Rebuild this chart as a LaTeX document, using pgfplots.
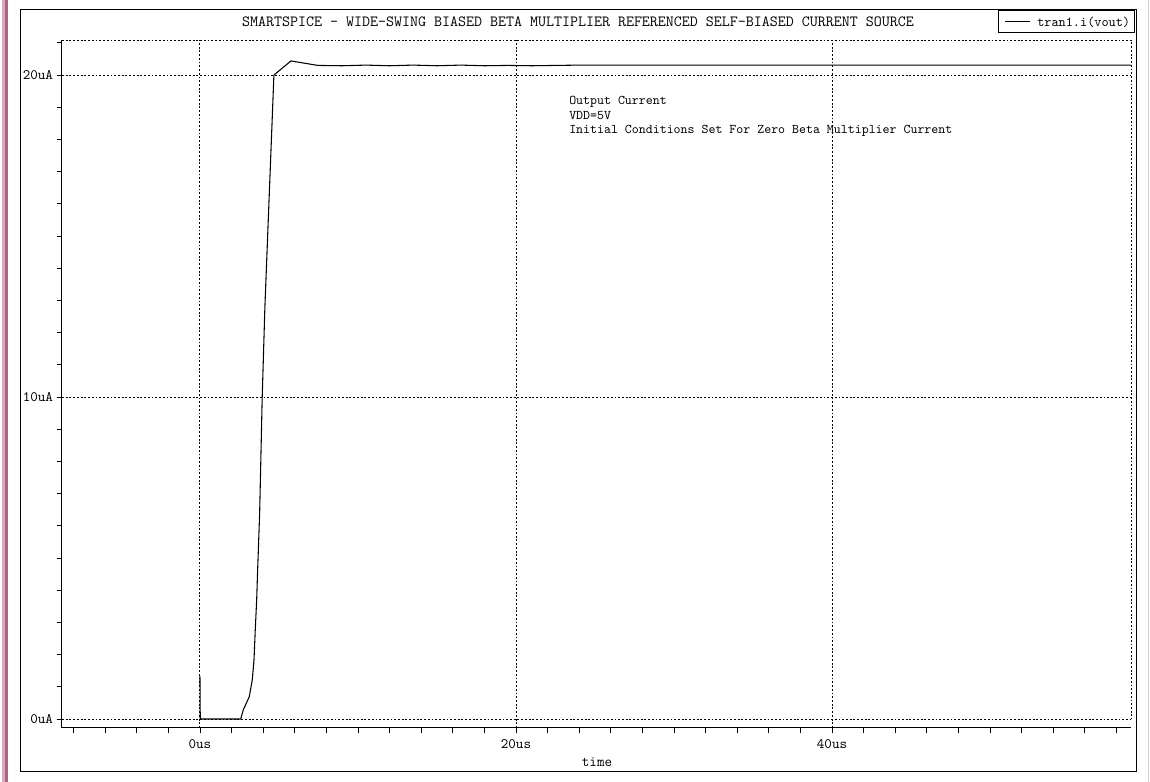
\documentclass[border=0pt]{standalone}
\usepackage{pgfplots}
\pgfplotsset{compat=1.18}
\usepackage{fontspec}
\renewcommand{\familydefault}{\ttdefault}
\begin{document}
\ttfamily
\begin{tikzpicture}[x=0.75pt,y=0.75pt, every node/.style={font=\ttfamily}]
\path[use as bounding box] (0,0) rectangle (1150,782);
% left decorative bar and right edge
\fill[color={rgb,255:red,222;green,168;blue,190}] (2,0) rectangle (5,782);
\fill[color={rgb,255:red,176;green,98;blue,130}] (5,0) rectangle (8,782);
\draw[gray!35, line width=0.75pt] (1148,0) -- (1148,782);
% outer frame
\draw[line width=0.75pt] (20,10) rectangle (1136,772);
\begin{axis}[
  at={(46.5pt,40.5pt)}, anchor=south west,
  scale only axis, width=801.75pt, height=516pt,
  xmin=-8.73, xmax=58.92, ymin=-0.28, ymax=21.09,
  axis lines=left, axis line style={-, line width=0.75pt},
  tick align=outside,
  major tick length=4pt, minor tick length=4pt,
  every tick/.style={black, line width=0.6pt},
  xtick={0,20,40}, xticklabels={0us,20us,40us},
  ytick={0,10,20}, yticklabels={0uA,10uA,20uA},
  minor xtick={-8,-6,...,58},
  minor ytick={0,1,...,21},
  tick label style={font=\ttfamily\fontsize{10.8}{12}\selectfont},
  yticklabel style={xshift=0.8pt},
  xticklabel style={yshift=-1pt},
  grid=major,
  major grid style={black, line width=0.7pt, dash pattern=on 1.4pt off 1.4pt},
  clip=false,
]
\draw[black, line width=0.7pt, dash pattern=on 1.4pt off 1.4pt]
  (axis cs:-8.73,21.09) -- (axis cs:58.92,21.09) -- (axis cs:58.92,0);
\addplot[black, line width=0.8pt] coordinates {
 (0,1.34) (0.02,0) (2.58,0) (2.74,0.28) (3.12,0.69) (3.31,1.21) (3.42,1.83)
 (3.50,2.77) (3.59,3.70) (3.64,4.47) (3.78,6.43) (3.94,10.0) (4.11,12.8)
 (4.68,20.0) (5.76,20.44) (7.47,20.30) (9,20.29) (10.5,20.31) (12,20.29)
 (13.5,20.31) (15,20.29) (16.5,20.31) (18,20.29) (19.5,20.30) (21,20.29)
 (22.5,20.30) (24,20.31) (30,20.31) (40,20.31) (50,20.31) (58.92,20.31)
};
\end{axis}
% title
\node[font=\ttfamily\fontsize{11.65}{13}\selectfont] at (578,760) {SMARTSPICE - WIDE-SWING BIASED BETA MULTIPLIER REFERENCED SELF-BIASED CURRENT SOURCE};
% legend
\draw[fill=white, line width=0.75pt] (998,749) rectangle (1134,771);
\draw[line width=0.75pt] (1005,760) -- (1030,760);
\node[anchor=west, inner sep=0pt, font=\ttfamily\fontsize{10.2}{12}\selectfont] at (1037,760) {tran1.i(vout)};
% annotations
\node[anchor=west, inner sep=0pt, font=\ttfamily\fontsize{9.95}{11}\selectfont] at (569,680) {Output Current};
\node[anchor=west, inner sep=0pt, font=\ttfamily\fontsize{9.95}{11}\selectfont] at (569,666) {VDD=5V};
\node[anchor=west, inner sep=0pt, font=\ttfamily\fontsize{9.95}{11}\selectfont] at (569,651) {Initial Conditions Set For Zero Beta Multiplier Current};
% x label
\node[font=\ttfamily\fontsize{11}{12}\selectfont] at (597,20) {time};
\end{tikzpicture}
\end{document}
